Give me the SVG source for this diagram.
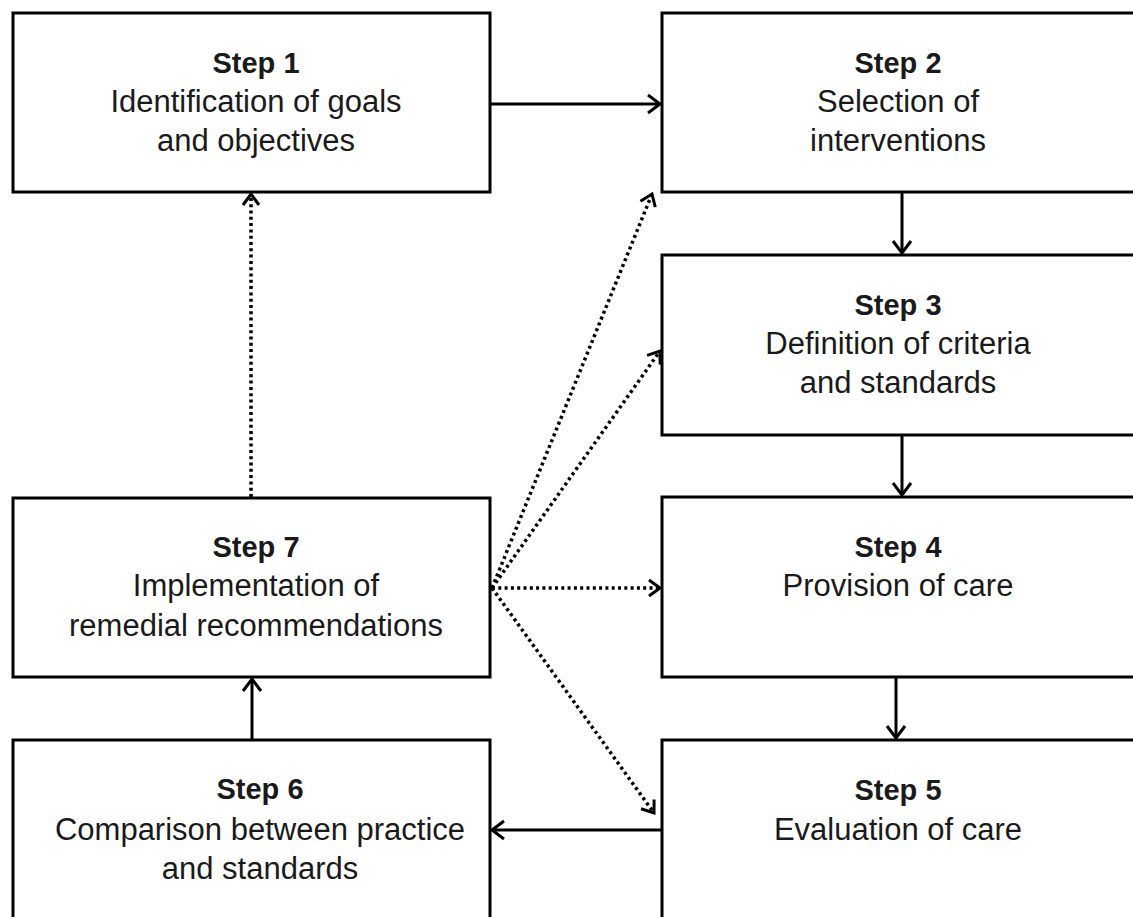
<svg xmlns="http://www.w3.org/2000/svg" width="1133" height="917" viewBox="0 0 1133 917">
<style>
.box{fill:#fff;stroke:#000;stroke-width:3}
.t{font-family:"Liberation Sans",Arial,sans-serif;font-size:31px;fill:#1a1a1a;text-anchor:middle}
.b{font-weight:bold;font-size:29px}
.solid{stroke:#000;stroke-width:3;fill:none}
.dot{stroke:#000;stroke-width:3.5;fill:none;stroke-dasharray:3 3.3}
</style>
<defs>
<marker id="ah" markerUnits="userSpaceOnUse" markerWidth="24" markerHeight="24" refX="14" refY="10" orient="auto" viewBox="0 0 24 20">
<path d="M2,1 L14,10 L2,19" fill="none" stroke="#000" stroke-width="3"/>
</marker>
<marker id="ahd" markerUnits="userSpaceOnUse" markerWidth="24" markerHeight="24" refX="14" refY="10" orient="auto" viewBox="0 0 24 20">
<path d="M3,2 L14,10 L3,18" fill="none" stroke="#000" stroke-width="3"/>
</marker>
</defs>
<rect width="1133" height="917" fill="#fff"/>
<g id="connectors">
<line class="solid" x1="490" y1="104" x2="660" y2="104" marker-end="url(#ah)"/>
<line class="solid" x1="902" y1="192" x2="902" y2="253" marker-end="url(#ah)"/>
<line class="solid" x1="902" y1="435" x2="902" y2="495" marker-end="url(#ah)"/>
<line class="solid" x1="896" y1="677" x2="896" y2="738" marker-end="url(#ah)"/>
<line class="solid" x1="662" y1="830" x2="492" y2="830" marker-end="url(#ah)"/>
<line class="solid" x1="252" y1="740" x2="252" y2="679" marker-end="url(#ah)"/>
<line class="dot" x1="251" y1="497" x2="251" y2="194" marker-end="url(#ahd)"/>
<line class="dot" x1="492" y1="588" x2="652" y2="194" marker-end="url(#ahd)"/>
<line class="dot" x1="492" y1="588" x2="660" y2="351" marker-end="url(#ahd)"/>
<line class="dot" x1="492" y1="588" x2="660" y2="588" marker-end="url(#ahd)"/>
<line class="dot" x1="492" y1="588" x2="654" y2="813" marker-end="url(#ahd)"/>
</g>
<g id="step1">
<rect class="box" x="13" y="13" width="477" height="179"/>
<text class="t b" x="256" y="73">Step 1</text>
<text class="t" x="256" y="112">Identification of goals</text>
<text class="t" x="256" y="151">and objectives</text>
</g>
<g id="step2">
<rect class="box" x="662" y="13" width="500" height="179"/>
<text class="t b" x="898" y="73">Step 2</text>
<text class="t" x="898" y="112">Selection of</text>
<text class="t" x="898" y="151">interventions</text>
</g>
<g id="step3">
<rect class="box" x="662" y="255" width="500" height="180"/>
<text class="t b" x="898" y="315">Step 3</text>
<text class="t" x="898" y="354">Definition of criteria</text>
<text class="t" x="898" y="393">and standards</text>
</g>
<g id="step4">
<rect class="box" x="662" y="497" width="500" height="180"/>
<text class="t b" x="898" y="557">Step 4</text>
<text class="t" x="898" y="596">Provision of care</text>
</g>
<g id="step5">
<rect class="box" x="662" y="740" width="500" height="200"/>
<text class="t b" x="898" y="800">Step 5</text>
<text class="t" x="898" y="840">Evaluation of care</text>
</g>
<g id="step6">
<rect class="box" x="13" y="740" width="477" height="200"/>
<text class="t b" x="260" y="799">Step 6</text>
<text class="t" x="260" y="840">Comparison between practice</text>
<text class="t" x="260" y="879">and standards</text>
</g>
<g id="step7">
<rect class="box" x="13" y="498" width="477" height="179"/>
<text class="t b" x="256" y="557">Step 7</text>
<text class="t" x="256" y="596">Implementation of</text>
<text class="t" x="256" y="636">remedial recommendations</text>
</g>
</svg>
